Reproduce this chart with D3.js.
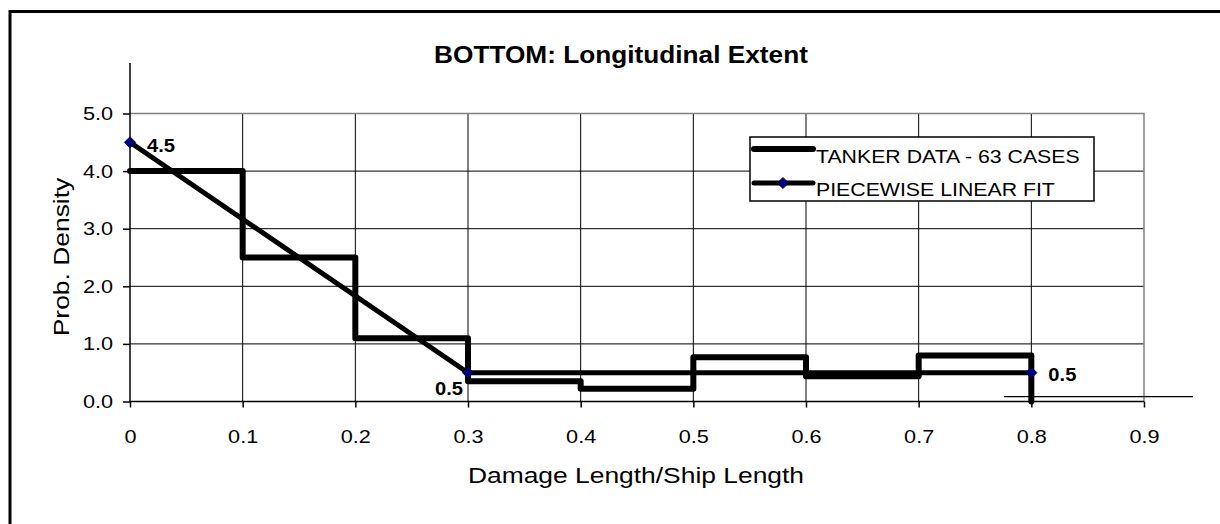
<!DOCTYPE html>
<html>
<head>
<meta charset="utf-8">
<script src="https://cdn.jsdelivr.net/npm/d3@7"></script>
<style>
  body { margin: 0; background: #fff; }
  text { font-family: "Liberation Sans", Arial, sans-serif; fill: #000; }
</style>
</head>
<body>
<div id="chart"></div>
<script>
// Data
const binStarts = [0, 0.1, 0.2, 0.3, 0.4, 0.5, 0.6, 0.7];
const tankerDensity = [4.0, 2.5, 1.1, 0.35, 0.22, 0.77, 0.44, 0.8];
const fitX = [0, 0.3, 0.8];
const fitY = [4.5, 0.5, 0.5];
const xTicks = [0, 0.1, 0.2, 0.3, 0.4, 0.5, 0.6, 0.7, 0.8, 0.9];
const yTicks = [0, 1, 2, 3, 4, 5];
const seriesNames = ["TANKER DATA - 63 CASES", "PIECEWISE LINEAR FIT"];

const W = 1220, H = 524;
const svg = d3.select("#chart").append("svg")
    .attr("width", W)
    .attr("height", H);

// the source font is a little wider than Arial, stretch texts a bit
const widen = (sel, k = 1.14) => sel.each(function() {
    const len = this.getComputedTextLength();
    d3.select(this).attr("textLength", len * k).attr("lengthAdjust", "spacingAndGlyphs");
});

// outer frame (cut off at right and bottom)
svg.append("rect")
    .attr("x", 10).attr("y", 11.5)
    .attr("width", 1400).attr("height", 700)
    .attr("fill", "none").attr("stroke", "#000").attr("stroke-width", 3);

const x = d3.scaleLinear().domain([0, 0.9]).range([130, 1144]);
const y = d3.scaleLinear().domain([0, 5]).range([401.5, 113.5]);

// gridlines
svg.append("g").selectAll("line")
    .data(yTicks.slice(1, -1))
    .join("line")
    .attr("x1", x(0)).attr("x2", x(0.9))
    .attr("y1", d => y(d)).attr("y2", d => y(d))
    .attr("stroke", "#000").attr("stroke-width", 1);

svg.append("g").selectAll("line")
    .data(xTicks.slice(1, -1))
    .join("line")
    .attr("x1", d => x(d)).attr("x2", d => x(d))
    .attr("y1", y(0)).attr("y2", y(5))
    .attr("stroke", "#000").attr("stroke-width", 1);

// plot area border (grey top and right)
svg.append("path")
    .attr("d", `M${x(0)},${y(5)}H${x(0.9)}V${y(0)}`)
    .attr("fill", "none").attr("stroke", "#808080").attr("stroke-width", 1.5);

// axes
const xAxis = svg.append("g")
    .attr("transform", `translate(0,${y(0)})`)
    .call(d3.axisBottom(x).tickValues(xTicks).tickSize(6).tickPadding(22)
        .tickFormat(d => d === 0 ? "0" : d3.format(".1f")(d)));
xAxis.select(".domain").remove();
xAxis.selectAll("line").attr("stroke", "#000").attr("stroke-width", 1.5);
xAxis.selectAll("text").attr("font-size", 19).attr("font-family", null).call(widen);

const yAxis = svg.append("g")
    .attr("transform", `translate(${x(0)},0)`)
    .call(d3.axisLeft(y).tickValues(yTicks).tickSize(7).tickPadding(10).tickFormat(d3.format(".1f")));
yAxis.select(".domain").remove();
yAxis.selectAll("line").attr("stroke", "#000").attr("stroke-width", 1.5);
yAxis.selectAll("text").attr("font-size", 19).attr("font-family", null).call(widen);

// axis lines (the y line runs up past the plot)
svg.append("line")
    .attr("x1", x(0)).attr("x2", x(0.9))
    .attr("y1", y(0)).attr("y2", y(0))
    .attr("stroke", "#000").attr("stroke-width", 1.5);
svg.append("line")
    .attr("x1", x(0)).attr("x2", x(0))
    .attr("y1", 63).attr("y2", y(0))
    .attr("stroke", "#000").attr("stroke-width", 1.5);
// stray line near the bottom right
svg.append("line")
    .attr("x1", 1004).attr("x2", 1193)
    .attr("y1", 396.7).attr("y2", 396.7)
    .attr("stroke", "#000").attr("stroke-width", 1.2);

// tanker data step line
const stepPts = binStarts.map((b, i) => [b, tankerDensity[i]]);
stepPts.push([0.8, tankerDensity[tankerDensity.length - 1]]);
stepPts.push([0.8, 0]);

const stepLine = d3.line()
    .x(d => x(d[0]))
    .y(d => y(d[1]))
    .curve(d3.curveStepAfter);

svg.append("path")
    .datum(stepPts)
    .attr("d", stepLine)
    .attr("fill", "none")
    .attr("stroke", "#000")
    .attr("stroke-width", 6)
    .attr("stroke-linejoin", "round")
    .attr("stroke-linecap", "round");

// piecewise linear fit
const fitPts = fitX.map((v, i) => [v, fitY[i]]);
svg.append("path")
    .datum(fitPts)
    .attr("d", d3.line().x(d => x(d[0])).y(d => y(d[1])))
    .attr("fill", "none")
    .attr("stroke", "#000")
    .attr("stroke-width", 5)
    .attr("stroke-linejoin", "round");

const diamond = d3.symbol().type(d3.symbolDiamond2).size(80);
svg.append("g").selectAll("path")
    .data(fitPts)
    .join("path")
    .attr("d", diamond)
    .attr("transform", d => `translate(${x(d[0])},${y(d[1])})`)
    .attr("fill", "#000080")
    .attr("stroke", "#000033")
    .attr("stroke-width", 0.8);

// point labels
const labelPos = [
    { dx: 17, dy: 10, anchor: "start" },
    { dx: -5, dy: 22, anchor: "end" },
    { dx: 17, dy: 8, anchor: "start" }
];
svg.append("g").selectAll("text")
    .data(fitPts)
    .join("text")
    .attr("x", (d, i) => x(d[0]) + labelPos[i].dx)
    .attr("y", (d, i) => y(d[1]) + labelPos[i].dy)
    .attr("text-anchor", (d, i) => labelPos[i].anchor)
    .attr("font-size", 18)
    .attr("font-weight", "bold")
    .text(d => d3.format(".1f")(d[1]))
    .call(widen, 1.12);

// title and axis labels
svg.append("text")
    .attr("x", 621).attr("y", 63)
    .attr("text-anchor", "middle")
    .attr("font-size", 23)
    .attr("font-weight", "bold")
    .text("BOTTOM: Longitudinal Extent")
    .call(widen);

svg.append("text")
    .attr("x", 636).attr("y", 483)
    .attr("text-anchor", "middle")
    .attr("font-size", 22)
    .text("Damage Length/Ship Length")
    .call(widen, 1.2);

svg.append("text")
    .attr("transform", "translate(69,257) rotate(-90)")
    .attr("text-anchor", "middle")
    .attr("font-size", 22)
    .text("Prob. Density")
    .call(widen, 1.2);

// legend
const legend = svg.append("g").attr("transform", "translate(750,137)");
legend.append("rect")
    .attr("width", 344).attr("height", 64)
    .attr("fill", "#fff").attr("stroke", "#000").attr("stroke-width", 1.5);

legend.append("line")
    .attr("x1", 4).attr("x2", 63).attr("y1", 12).attr("y2", 12)
    .attr("stroke", "#000").attr("stroke-width", 6).attr("stroke-linecap", "round");
legend.append("line")
    .attr("x1", 4).attr("x2", 63).attr("y1", 46).attr("y2", 46)
    .attr("stroke", "#000").attr("stroke-width", 5).attr("stroke-linecap", "round");
legend.append("path")
    .attr("d", diamond)
    .attr("transform", "translate(33,46)")
    .attr("fill", "#000080").attr("stroke", "#000033").attr("stroke-width", 0.8);

seriesNames.forEach((name, i) => {
    legend.append("text")
        .attr("x", 66)
        .attr("y", 26 + i * 33)
        .attr("font-size", 19)
        .text(name)
        .call(widen, 1.12);
});
</script>
</body>
</html>
